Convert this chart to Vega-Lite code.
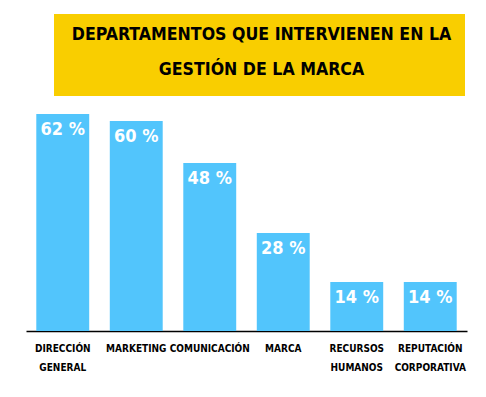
{
  "$schema": "https://vega.github.io/schema/vega-lite/v6.json",
  "width": 441,
  "height": 317,
  "autosize": {"type": "none"},
  "padding": {"left": 26, "top": 14, "right": 19, "bottom": 66},
  "background": "white",
  "config": {"view": {"stroke": null}},
  "layer": [
    {
      "data": {
        "values": [
          {"dept": "DIRECCIÓN GENERAL", "pct": 62, "label": "62 %"},
          {"dept": "MARKETING", "pct": 60, "label": "60 %"},
          {"dept": "COMUNICACIÓN", "pct": 48, "label": "48 %"},
          {"dept": "MARCA", "pct": 28, "label": "28 %"},
          {"dept": "RECURSOS HUMANOS", "pct": 14, "label": "14 %"},
          {"dept": "REPUTACIÓN CORPORATIVA", "pct": 14, "label": "14 %"}
        ]
      },
      "encoding": {
        "x": {
          "field": "dept",
          "type": "nominal",
          "sort": null,
          "scale": {"paddingInner": 0.28, "paddingOuter": 0.14},
          "axis": {
            "title": null,
            "labelAngle": 0,
            "ticks": false,
            "domainColor": "#000000",
            "domainWidth": 1.5,
            "labelPadding": 12,
            "labelFont": "DejaVu Sans Condensed",
            "labelFontWeight": "bold",
            "labelFontSize": 10,
            "labelColor": "#000000",
            "labelLineHeight": 19,
            "labelBaseline": "top",
            "labelExpr": "split(datum.label, ' ')"
          }
        },
        "y": {
          "field": "pct",
          "type": "quantitative",
          "scale": {"domain": [0, 90.6], "nice": false},
          "axis": null
        }
      },
      "layer": [
        {"mark": {"type": "bar", "color": "#52C5FC"}},
        {
          "mark": {
            "type": "text",
            "baseline": "top",
            "dy": 7,
            "color": "white",
            "font": "DejaVu Sans Condensed",
            "fontSize": 18,
            "fontWeight": "bold"
          },
          "encoding": {"text": {"field": "label"}}
        }
      ]
    },
    {
      "layer": [
        {
          "data": {"values": [{"x1": 28, "x2": 439, "y1": 67.14, "y2": 90.6}]},
          "mark": {"type": "rect", "color": "#F9CE00"},
          "encoding": {
            "x": {"field": "x1", "type": "quantitative", "scale": {"domain": [0, 441], "nice": false}, "axis": null},
            "x2": {"field": "x2"},
            "y": {"field": "y1", "type": "quantitative"},
            "y2": {"field": "y2"}
          }
        },
        {
          "data": {
            "values": [
              {"x": 235.5, "y": 84.5, "t": "DEPARTAMENTOS QUE INTERVIENEN EN LA"},
              {"x": 235.5, "y": 74.7, "t": "GESTIÓN DE LA MARCA"}
            ]
          },
          "mark": {
            "type": "text",
            "baseline": "middle",
            "align": "center",
            "color": "#000000",
            "font": "DejaVu Sans Condensed",
            "fontSize": 17.6,
            "fontWeight": "bold"
          },
          "encoding": {
            "x": {"field": "x", "type": "quantitative", "scale": {"domain": [0, 441], "nice": false}, "axis": null},
            "y": {"field": "y", "type": "quantitative"},
            "text": {"field": "t"}
          }
        }
      ]
    }
  ],
  "resolve": {"scale": {"x": "independent"}}
}
